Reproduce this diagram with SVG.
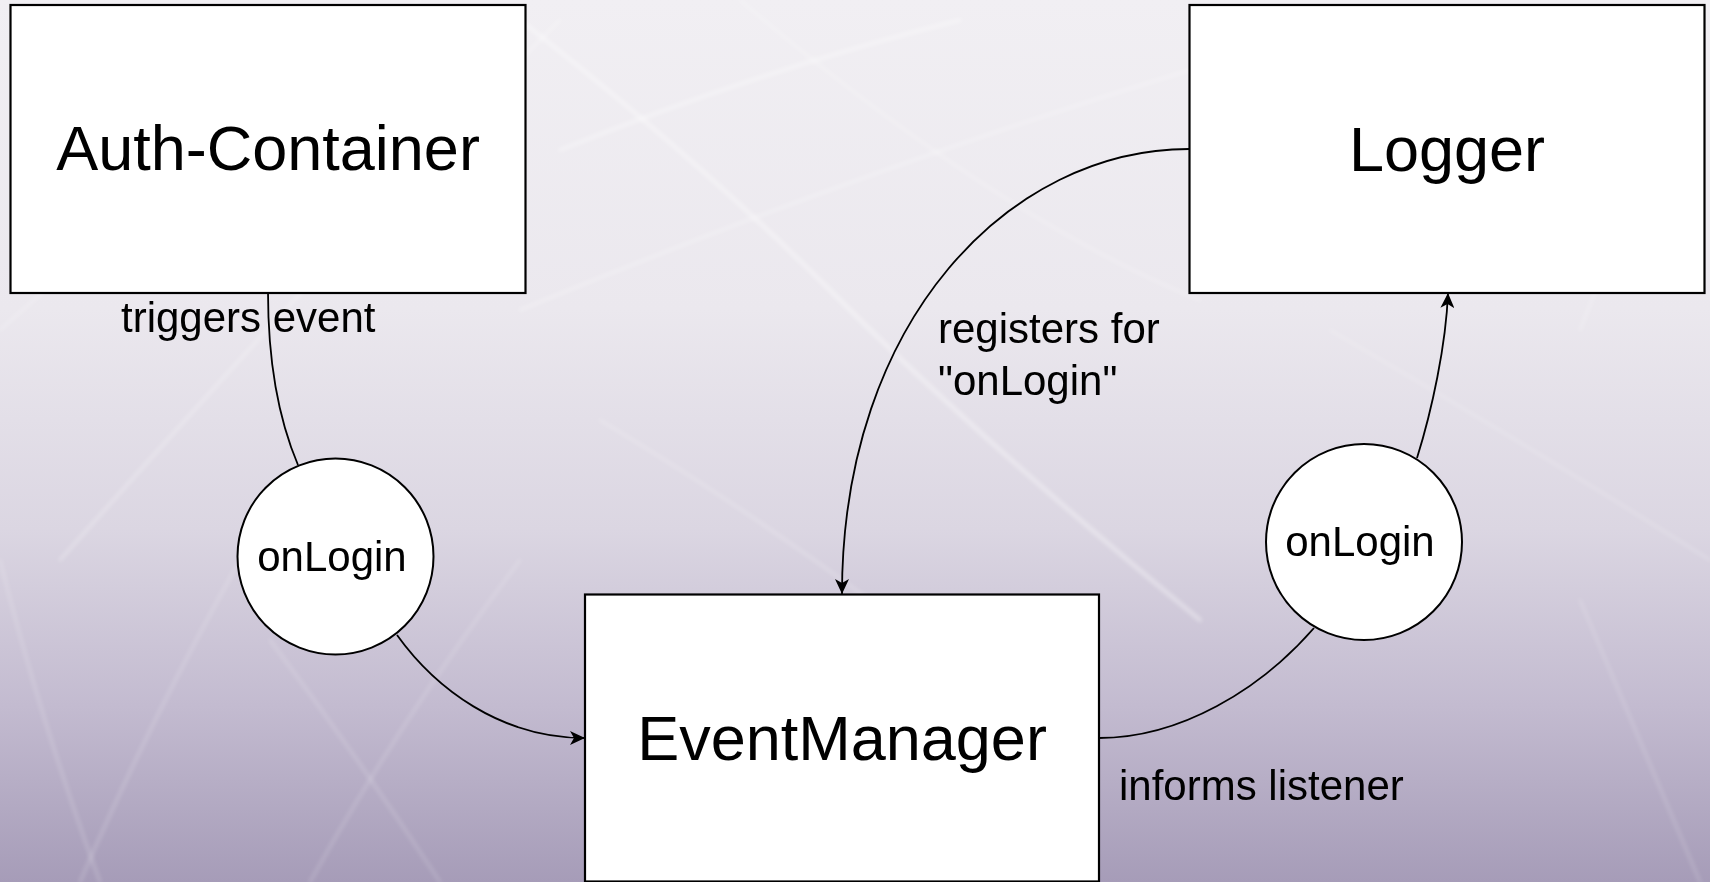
<svg xmlns="http://www.w3.org/2000/svg" width="1710" height="882" viewBox="0 0 1710 882">
  <defs>
    <linearGradient id="bg" x1="0" y1="0" x2="0" y2="1">
      <stop offset="0" stop-color="#f1eff3"/>
      <stop offset="0.35" stop-color="#ebe8ee"/>
      <stop offset="0.6" stop-color="#dbd6e2"/>
      <stop offset="0.8" stop-color="#c3bbd0"/>
      <stop offset="1" stop-color="#a69cb8"/>
    </linearGradient>
    <filter id="soft" x="-5%" y="-5%" width="110%" height="110%">
      <feGaussianBlur stdDeviation="2"/>
    </filter>
    <marker id="arrow" markerUnits="userSpaceOnUse" markerWidth="16" markerHeight="14" refX="15" refY="7" orient="auto">
      <path d="M0,0 L15,7 L0,14 L4,7 Z" fill="#000"/>
    </marker>
    <style>
      .box { fill: #ffffff; stroke: #000000; stroke-width: 2.2; }
      .bubble { fill: #ffffff; stroke: #000000; stroke-width: 2; }
      .title { font-family: "Liberation Sans", Arial, sans-serif; font-size: 63px; fill: #000; text-anchor: middle; }
      .label { font-family: "Liberation Sans", Arial, sans-serif; font-size: 42px; fill: #000; }
      .mid { text-anchor: middle; }
      .edge { fill: none; stroke: #000; stroke-width: 1.8; }
      .streak { fill: none; stroke: #ffffff; stroke-linecap: round; }
    </style>
  </defs>

  <!-- backdrop: soft lavender gradient with faint light streaks -->
  <rect x="0" y="0" width="1710" height="882" fill="url(#bg)"/>
  <g filter="url(#soft)" class="streak">
    <path d="M520,20 Q700,160 840,300 T1200,620" stroke-width="4" opacity="0.4"/>
    <path d="M560,150 Q760,70 960,20" stroke-width="4" opacity="0.35"/>
    <path d="M520,310 Q860,170 1190,70" stroke-width="3" opacity="0.3"/>
    <path d="M560,20 Q380,200 60,560" stroke-width="3" opacity="0.3"/>
    <path d="M740,0 Q1000,220 1200,300" stroke-width="3" opacity="0.25"/>
    <path d="M600,420 Q800,540 1000,700" stroke-width="3" opacity="0.22"/>
    <path d="M420,0 Q200,150 0,330" stroke-width="3" opacity="0.25"/>
    <path d="M0,560 Q40,720 100,882" stroke-width="3" opacity="0.2"/>
    <path d="M240,560 Q150,720 80,882" stroke-width="3" opacity="0.2"/>
    <path d="M270,640 Q360,760 440,882" stroke-width="3" opacity="0.18"/>
    <path d="M520,560 Q400,720 310,882" stroke-width="3" opacity="0.18"/>
    <path d="M1700,20 Q1640,180 1580,330" stroke-width="3" opacity="0.25"/>
    <path d="M1330,330 Q1520,440 1710,560" stroke-width="3" opacity="0.2"/>
    <path d="M1580,600 Q1640,740 1700,882" stroke-width="3" opacity="0.18"/>
  </g>

  <!-- connectors -->
  <g id="connectors">
    <path class="edge" d="M268,292 C268,370 281,425 298,465"/>
    <path class="edge" d="M397,635 C435,688 500,738 585,738" marker-end="url(#arrow)"/>
    <path class="edge" d="M1189,149 C1010,149 842,320 842,594" marker-end="url(#arrow)"/>
    <path class="edge" d="M1099,738 C1180,738 1260,690 1314,628"/>
    <path class="edge" d="M1417,458 C1432,410 1446,345 1448,293" marker-end="url(#arrow)"/>
  </g>

  <!-- edge labels -->
  <g id="edge-labels">
    <text class="label" x="121" y="332">triggers event</text>
    <text class="label" x="938" y="343">registers for</text>
    <text class="label" x="938" y="395">"onLogin"</text>
    <text class="label" x="1119" y="800">informs listener</text>
  </g>

  <g id="auth-container">
    <rect class="box" x="10.5" y="5" width="515" height="288"/>
    <text class="title" x="268" y="170">Auth-Container</text>
  </g>

  <g id="logger">
    <rect class="box" x="1189.5" y="5" width="515" height="288"/>
    <text class="title" x="1447" y="171">Logger</text>
  </g>

  <g id="event-manager">
    <rect class="box" x="585" y="594.5" width="514" height="287"/>
    <text class="title" x="842" y="760">EventManager</text>
  </g>

  <g id="event-out">
    <circle class="bubble" cx="335.5" cy="556.5" r="98"/>
    <text class="label mid" x="332" y="571">onLogin</text>
  </g>

  <g id="event-in">
    <circle class="bubble" cx="1364" cy="542" r="98"/>
    <text class="label mid" x="1360" y="556">onLogin</text>
  </g>
</svg>
